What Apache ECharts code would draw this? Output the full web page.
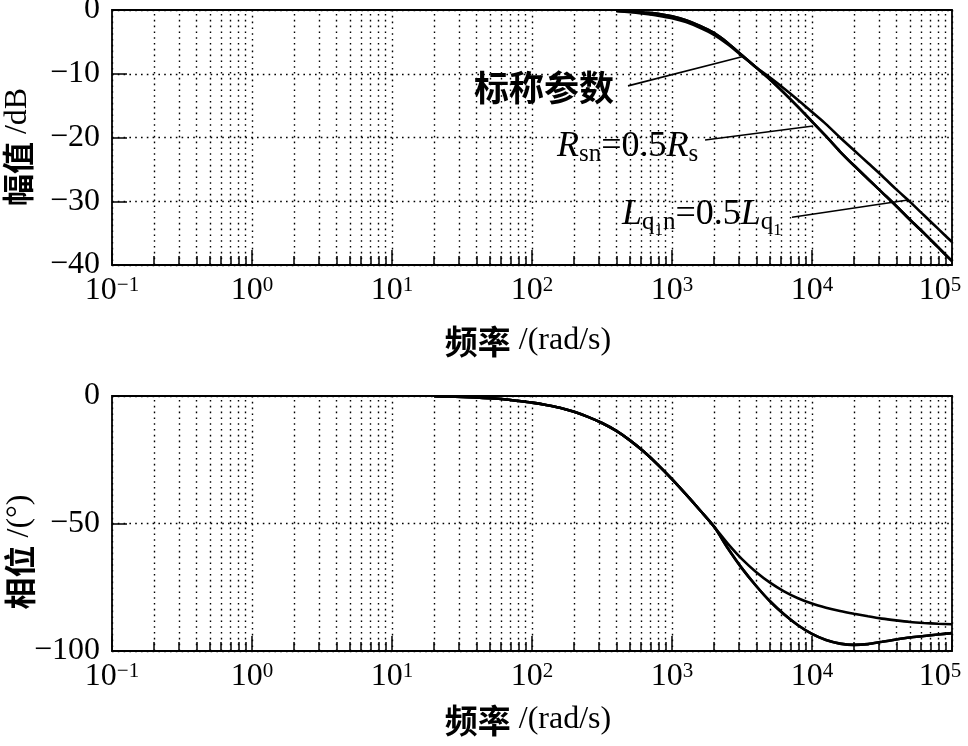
<!DOCTYPE html>
<html lang="zh">
<head>
<meta charset="utf-8">
<title>伯德图</title>
<script src="https://cdn.jsdelivr.net/npm/echarts@6/dist/echarts.min.js"></script>
<style>
    html, body { margin: 0; padding: 0; background: #fff; }
    #main { width: 968px; height: 746px; }
</style>
</head>
<body>
<div id="main"></div>
<script>
    // 幅频特性 (rad/s, dB)
    var magFreq = [400, 501, 631, 794, 1000, 1259, 1585, 1995, 2512, 3162, 3981, 5012, 6310, 7943,
        10000, 12589, 15849, 19953, 25119, 31623, 39811, 50119, 63096, 79433, 100000];
    var magNominal = [-0.1, -0.2, -0.4, -0.6, -1.0, -1.6, -2.5, -3.6, -5.2, -7.1, -9.0, -10.9, -13.0, -15.2,
        -17.5, -19.8, -22.2, -24.4, -26.5, -28.6, -30.7, -32.9, -35.0, -37.2, -39.4];
    var magRsn = [-0.2, -0.35, -0.6, -0.9, -1.3, -1.9, -2.8, -3.9, -5.4, -7.2, -9.0, -10.9, -13.0, -15.2,
        -17.5, -19.8, -22.2, -24.4, -26.5, -28.6, -30.7, -32.9, -35.0, -37.2, -39.4];
    var magLq = [-0.1, -0.2, -0.4, -0.6, -1.0, -1.6, -2.5, -3.6, -5.2, -7.1, -9.0, -10.6, -12.3, -14.1,
        -16.0, -17.9, -20.0, -22.0, -24.0, -26.0, -28.1, -30.1, -32.2, -34.3, -36.4];

    // 相频特性 (rad/s, °)
    var phaseFreq = [20, 25, 32, 40, 50, 63, 79, 100, 126, 158, 200, 251, 316, 398, 501, 631, 794,
        1000, 1259, 1585, 1995, 2512, 3162, 3981, 5012, 6310, 7943, 10000, 12589, 15849, 19953,
        25119, 31623, 39811, 50119, 63096, 79433, 100000];
    var phaseLq = [-0.1, -0.2, -0.4, -0.6, -0.9, -1.3, -1.9, -2.6, -3.5, -4.6, -6.2, -8.2, -10.6, -13.6,
        -17.4, -21.9, -27.0, -32.6, -38.6, -44.8, -51.2,
        -58.0, -64.0, -69.0, -73.2, -76.6, -79.3, -81.4, -83.0, -84.3, -85.4, -86.4, -87.3, -88.0,
        -88.6, -89.0, -89.3, -89.5];
    var phaseNominal = [-0.1, -0.2, -0.4, -0.6, -0.9, -1.3, -1.9, -2.6, -3.5, -4.6, -6.2, -8.2, -10.6, -13.6,
        -17.4, -21.9, -27.0, -32.6, -38.6, -44.8, -51.2,
        -59.8, -67.6, -74.4, -80.5, -85.6, -89.9, -93.3, -95.7, -97.1, -97.6, -97.3, -96.4, -95.5,
        -94.7, -94.1, -93.5, -93.0];
    var phaseRsn = phaseNominal.slice();

    // 坐标轴刻度
    var magTicks = [-40, -30, -20, -10, 0];
    var phaseTicks = [-100, -50, 0];
    var decades = [-1, 0, 1, 2, 3, 4];
    var minorSteps = [2, 3, 4, 5, 6, 7, 8, 9];

    var serif = 'Liberation Serif';
    var cjk = 'Noto Sans CJK SC';

    function zip(xs, ys) {
        var out = [];
        for (var i = 0; i < xs.length; i++) {
            out.push([xs[i], ys[i]]);
        }
        return out;
    }

    function minorValues() {
        var vals = [];
        for (var i = 0; i < decades.length; i++) {
            for (var j = 0; j < minorSteps.length; j++) {
                vals.push(minorSteps[j] * Math.pow(10, decades[i]));
            }
        }
        return vals;
    }

    var dotted = {color: '#000', type: [1.6, 4.2], width: 1.4};

    // 次网格线 + 底部短刻度
    function minorMarks(yMin, tickLen) {
        var vals = minorValues();
        var items = [];
        for (var i = 0; i < vals.length; i++) {
            items.push({xAxis: vals[i], lineStyle: dotted});
            items.push([
                {coord: [vals[i], yMin], lineStyle: {color: '#000', type: 'solid', width: 1.5}},
                {coord: [vals[i], yMin + tickLen]}
            ]);
        }
        return items;
    }

    function pointer(x1, y1, x2, y2) {
        return [
            {coord: [x1, y1], lineStyle: {color: '#000', type: 'solid', width: 1.6}},
            {coord: [x2, y2]}
        ];
    }

    function supLabel(v) {
        var e = Math.round(Math.log10(v));
        // 最右侧标签向左收进图内
        var tag = e === 5 ? 'last' : 's';
        return '{b|10}{' + tag + '|' + (e < 0 ? '\u2212' + (-e) : e) + '}';
    }

    function minusLabel(v) {
        return v < 0 ? '\u2212' + (-v) : String(v);
    }

    function xAxisCfg(gridIndex) {
        return {
            type: 'log',
            gridIndex: gridIndex,
            logBase: 10,
            min: 0.1,
            max: 100000,
            axisLine: {show: false, onZero: false},
            axisTick: {show: true, inside: true, length: 15, lineStyle: {color: '#000', width: 1.5}},
            splitLine: {show: true, lineStyle: dotted},
            axisLabel: {
                margin: 10,
                formatter: supLabel,
                rich: {
                    b: {fontFamily: serif, fontSize: 32, color: '#000', lineHeight: 32, verticalAlign: 'top'},
                    s: {fontFamily: serif, fontSize: 21, color: '#000', lineHeight: 21, verticalAlign: 'top'},
                    last: {fontFamily: serif, fontSize: 21, color: '#000', lineHeight: 21, verticalAlign: 'top', padding: [0, 24, 0, 0]}
                }
            }
        };
    }

    function yAxisCfg(gridIndex, ticks) {
        return {
            type: 'value',
            gridIndex: gridIndex,
            min: ticks[0],
            max: ticks[ticks.length - 1],
            interval: ticks[1] - ticks[0],
            axisLine: {show: false, onZero: false},
            axisTick: {show: true, inside: true, length: 15, lineStyle: {color: '#000', width: 1.5}},
            splitLine: {show: true, lineStyle: dotted},
            axisLabel: {
                margin: 12,
                formatter: minusLabel,
                fontFamily: serif,
                fontSize: 32,
                color: '#000'
            }
        };
    }

    function curve(name, data, xi, yi, extra) {
        var s = {
            name: name,
            type: 'line',
            xAxisIndex: xi,
            yAxisIndex: yi,
            data: data,
            smooth: 0.3,
            showSymbol: false,
            symbol: 'none',
            lineStyle: {color: '#000', width: 2.6},
            z: 5
        };
        if (extra) {
            s.markLine = extra;
        }
        return s;
    }

    var myChart = echarts.init(document.getElementById('main'));

    var markBase = {
        silent: true,
        symbol: ['none', 'none'],
        label: {show: false},
        emphasis: {disabled: true}
    };

    var option = {
        animation: false,
        backgroundColor: '#fff',
        grid: [
            {left: 112, top: 10, width: 840, height: 255, show: true, borderColor: '#000', borderWidth: 1.8, outerBoundsMode: 'none'},
            {left: 112, top: 396, width: 840, height: 255, show: true, borderColor: '#000', borderWidth: 1.8, outerBoundsMode: 'none'}
        ],
        xAxis: [xAxisCfg(0), xAxisCfg(1)],
        yAxis: [yAxisCfg(0, magTicks), yAxisCfg(1, phaseTicks)],
        series: [
            curve('标称参数', zip(magFreq, magNominal), 0, 0, Object.assign({}, markBase, {
                data: minorMarks(-40, 1.4).concat([
                    pointer(485, -11.9, 3214, -7.3),
                    pointer(1722, -20.4, 10170, -18.2),
                    pointer(7194, -32.5, 48500, -29.8)
                ])
            })),
            curve('Rsn=0.5Rs', zip(magFreq, magRsn), 0, 0),
            curve('Lq1n=0.5Lq1', zip(magFreq, magLq), 0, 0),
            curve('标称参数', zip(phaseFreq, phaseNominal), 1, 1, Object.assign({}, markBase, {
                data: minorMarks(-100, 3.5)
            })),
            curve('Rsn=0.5Rs', zip(phaseFreq, phaseRsn), 1, 1),
            curve('Lq1n=0.5Lq1', zip(phaseFreq, phaseLq), 1, 1)
        ],
        graphic: [
            {
                type: 'text', x: 474, y: 88,
                style: {text: '标称参数', font: 'bold 35px "Noto Sans CJK SC"', fill: '#000', align: 'left', verticalAlign: 'middle'}
            },
            {
                type: 'text', x: 557, y: 129,
                style: {
                    text: '{i|R}{sub|sn}{n|=0.5}{i|R}{sub|s}',
                    align: 'left', verticalAlign: 'top',
                    rich: {
                        i: {fontFamily: serif, fontStyle: 'italic', fontSize: 36, lineHeight: 36, verticalAlign: 'top', fill: '#000'},
                        n: {fontFamily: serif, fontSize: 36, lineHeight: 36, verticalAlign: 'top', fill: '#000'},
                        sub: {fontFamily: serif, fontSize: 25, lineHeight: 25, verticalAlign: 'top', padding: [13, 0, 0, 0], fill: '#000'}
                    }
                }
            },
            {
                type: 'text', x: 622, y: 197,
                style: {
                    text: '{i|L}{sub|q}{sub2|1}{sub|n}{n|=0.5}{i|L}{sub|q}{sub2|1}',
                    align: 'left', verticalAlign: 'top',
                    rich: {
                        i: {fontFamily: serif, fontStyle: 'italic', fontSize: 36, lineHeight: 36, verticalAlign: 'top', fill: '#000'},
                        n: {fontFamily: serif, fontSize: 36, lineHeight: 36, verticalAlign: 'top', fill: '#000'},
                        sub: {fontFamily: serif, fontSize: 25, lineHeight: 25, verticalAlign: 'top', padding: [13, 0, 0, 0], fill: '#000'},
                        sub2: {fontFamily: serif, fontSize: 17, lineHeight: 17, verticalAlign: 'top', padding: [25, 0, 0, 0], fill: '#000'}
                    }
                }
            },
            {
                type: 'text', x: 528, y: 341,
                style: {
                    text: '{c|频率}{e| /(rad/s)}', align: 'center', verticalAlign: 'middle',
                    rich: {
                        c: {fontFamily: cjk, fontWeight: 'bold', fontSize: 33, fill: '#000'},
                        e: {fontFamily: serif, fontSize: 32, fill: '#000'}
                    }
                }
            },
            {
                type: 'text', x: 528, y: 720,
                style: {
                    text: '{c|频率}{e| /(rad/s)}', align: 'center', verticalAlign: 'middle',
                    rich: {
                        c: {fontFamily: cjk, fontWeight: 'bold', fontSize: 33, fill: '#000'},
                        e: {fontFamily: serif, fontSize: 32, fill: '#000'}
                    }
                }
            },
            {
                type: 'text', x: 18, y: 147, rotation: Math.PI / 2,
                style: {
                    text: '{c|幅值}{e| /dB}', align: 'center', verticalAlign: 'middle',
                    rich: {
                        c: {fontFamily: cjk, fontWeight: 'bold', fontSize: 32, fill: '#000'},
                        e: {fontFamily: serif, fontSize: 32, fill: '#000'}
                    }
                }
            },
            {
                type: 'text', x: 20, y: 552, rotation: Math.PI / 2,
                style: {
                    text: '{c|相位}{e| /(°)}', align: 'center', verticalAlign: 'middle',
                    rich: {
                        c: {fontFamily: cjk, fontWeight: 'bold', fontSize: 32, fill: '#000'},
                        e: {fontFamily: serif, fontSize: 32, fill: '#000'}
                    }
                }
            }
        ]
    };

    myChart.setOption(option);
</script>
</body>
</html>
